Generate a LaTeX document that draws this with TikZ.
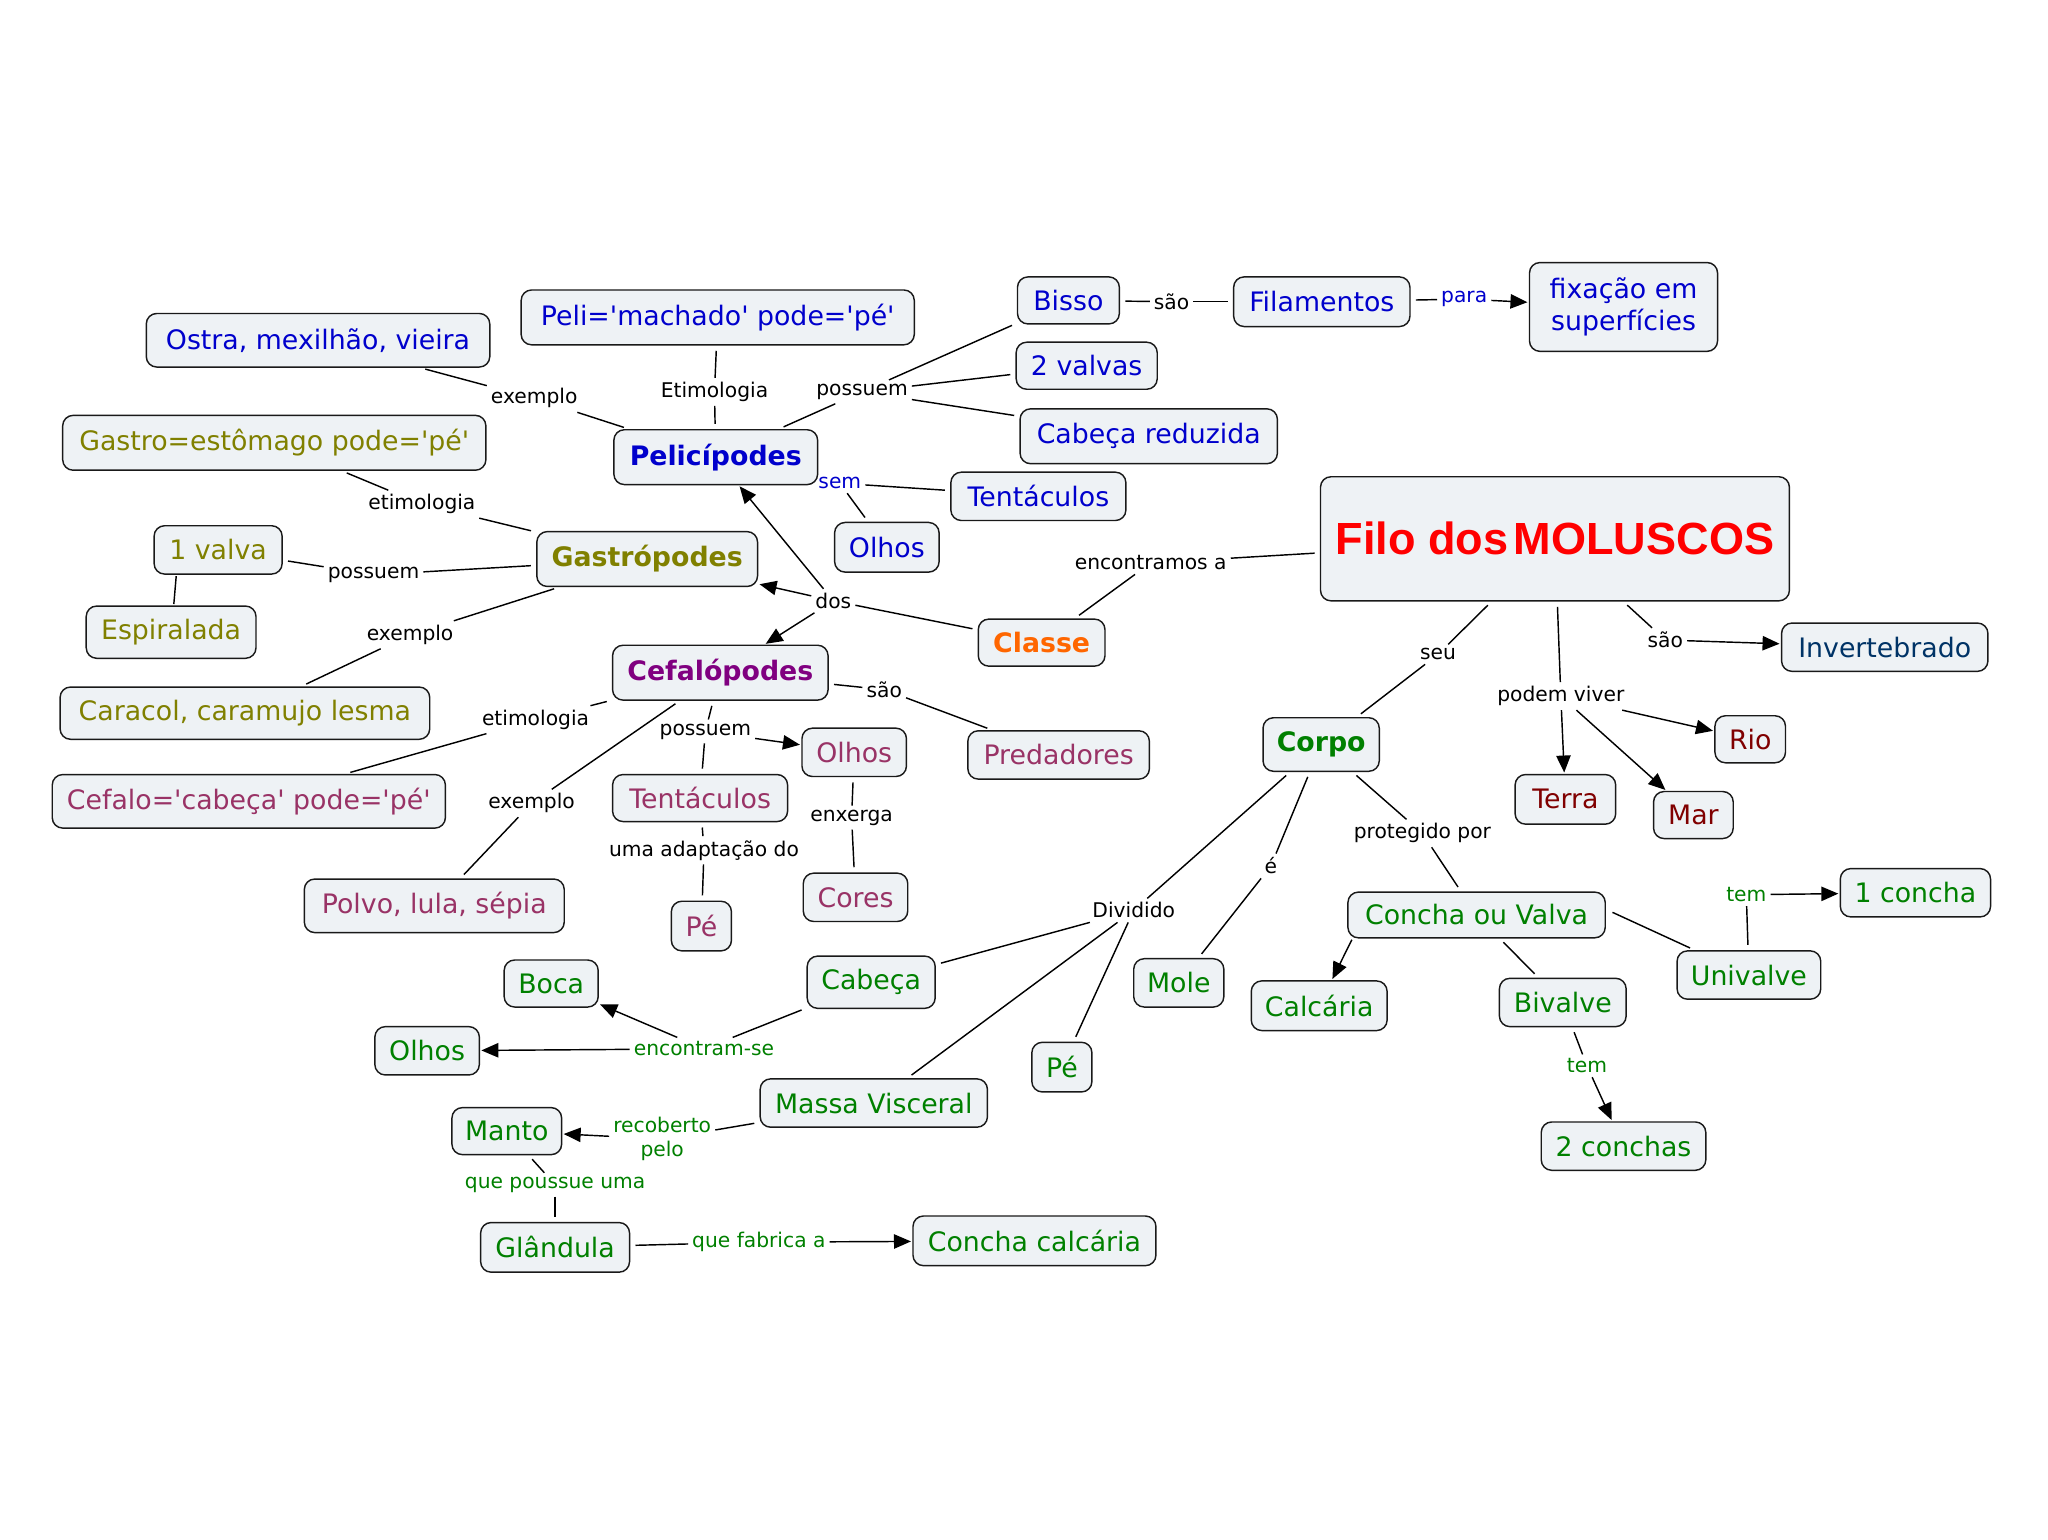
\documentclass[tikz,border=0pt]{standalone}
\usepackage{fontspec}
\setmainfont{DejaVu Sans}[Ligatures=TeXOff]
\newfontfamily\filofont{Liberation Sans}
\usetikzlibrary{arrows.meta}
\definecolor{nodefill}{RGB}{238,242,245}
\definecolor{cblue}{RGB}{0,0,204}
\definecolor{colive}{RGB}{128,128,0}
\definecolor{cpurple}{RGB}{128,0,128}
\definecolor{cplum}{RGB}{153,51,102}
\definecolor{corange}{RGB}{255,102,0}
\definecolor{cred}{RGB}{255,0,0}
\definecolor{cdblue}{RGB}{0,51,102}
\definecolor{cmaroon}{RGB}{128,0,0}
\definecolor{cgreen}{RGB}{0,128,0}
\tikzset{
  box/.style={draw=black!90, line width=1.1pt, rounded corners=8pt, fill=nodefill,
    inner sep=0pt, align=center, font=\fontsize{20.5}{25}\selectfont},
  bbox/.style={box, font=\fontsize{20.5}{25}\selectfont\bfseries},
  lbl/.style={inner sep=3pt, align=center, font=\fontsize{15.5}{19}\selectfont},
  ln/.style={line width=1.1pt},
  sn/.style={shorten <=4pt},
  en/.style={shorten >=4pt},
  arr/.style={ln, -{Triangle[length=13pt,width=11pt]}, shorten >=1pt},
}
\begin{document}
\begin{tikzpicture}[x=1pt,y=-1pt]
\fill[white] (0,0) rectangle (1568,1179);
\useasboundingbox (0,0) rectangle (1568,1179);

% ---------- Pelicipodes group (blue)
\node[box,text=cblue,minimum width=301pt,minimum height=42pt] (peliEt) at (549.5,243) {Peli='machado' pode='pé'};
\node[box,text=cblue,minimum width=263pt,minimum height=41pt] (ostra) at (243.5,260.5) {Ostra, mexilhão, vieira};
\node[bbox,text=cblue,minimum width=156pt,minimum height=42pt] (pelic) at (548,350) {Pelicípodes};
\node[box,text=cblue,minimum width=78pt,minimum height=36pt] (bisso) at (818,230) {Bisso};
\node[box,text=cblue,minimum width=108pt,minimum height=36pt] (valvas2) at (832,280) {2 valvas};
\node[box,text=cblue,minimum width=197pt,minimum height=42pt] (cabred) at (879.5,334) {Cabeça reduzida};
\node[box,text=cblue,minimum width=134pt,minimum height=37pt] (tentP) at (795,380) {Tentáculos};
\node[box,text=cblue,minimum width=80pt,minimum height=38pt] (olhosP) at (679,419) {Olhos};
\node[box,text=cblue,minimum width=135pt,minimum height=38pt] (filam) at (1012,231) {Filamentos};
\node[box,text=cblue,minimum width=144pt,minimum height=68pt] (fixacao) at (1243,235) {fixação em\\superfícies};

% ---------- Gastropodes group (olive)
\node[box,text=colive,minimum width=324pt,minimum height=42pt] (gastroEt) at (210,339) {Gastro=estômago pode='pé'};
\node[bbox,text=colive,minimum width=169pt,minimum height=42pt] (gastr) at (495.5,428) {Gastrópodes};
\node[box,text=colive,minimum width=98pt,minimum height=37pt] (valva1) at (167,421) {1 valva};
\node[box,text=colive,minimum width=130pt,minimum height=40pt] (espir) at (131,484) {Espiralada};
\node[box,text=colive,minimum width=283pt,minimum height=40pt] (caracol) at (187.5,546) {Caracol, caramujo lesma};

% ---------- Cefalopodes group
\node[bbox,text=cpurple,minimum width=165pt,minimum height=42pt] (cefal) at (551.5,515) {Cefalópodes};
\node[box,text=cplum,minimum width=301pt,minimum height=41pt] (cefaloEt) at (190.5,613.5) {Cefalo='cabeça' pode='pé'};
\node[box,text=cplum,minimum width=199pt,minimum height=41pt] (polvo) at (332.5,693.5) {Polvo, lula, sépia};
\node[box,text=cplum,minimum width=134pt,minimum height=36pt] (tentC) at (536,611) {Tentáculos};
\node[box,text=cplum,minimum width=80pt,minimum height=37pt] (olhosC) at (654,576) {Olhos};
\node[box,text=cplum,minimum width=139pt,minimum height=37pt] (pred) at (810.5,578) {Predadores};
\node[box,text=cplum,minimum width=46pt,minimum height=38pt] (peC) at (537,709) {Pé};
\node[box,text=cplum,minimum width=80pt,minimum height=37pt] (cores) at (655,687) {Cores};

% ---------- centre
\node[bbox,text=corange,minimum width=97pt,minimum height=36pt] (classe) at (797.5,492) {Classe};
\node[box,text=cred,minimum width=359pt,minimum height=95pt,font=\filofont\fontsize{34.5}{40}\selectfont\bfseries] (filo) at (1190.5,412.5) {Filo dos\hspace{4pt}MOLUSCOS};
\node[box,text=cdblue,minimum width=158pt,minimum height=37pt] (invert) at (1443,495.5) {Invertebrado};
\node[box,text=cmaroon,minimum width=54pt,minimum height=36pt] (rio) at (1340,566) {Rio};
\node[box,text=cmaroon,minimum width=77pt,minimum height=38pt] (terra) at (1198.5,612) {Terra};
\node[box,text=cmaroon,minimum width=61pt,minimum height=36pt] (mar) at (1296.5,624) {Mar};

% ---------- Corpo group (green)
\node[bbox,text=cgreen,minimum width=89pt,minimum height=41pt] (corpo) at (1011.5,570) {Corpo};
\node[box,text=cgreen,minimum width=197pt,minimum height=35pt] (cov) at (1130.5,700.5) {Concha ou Valva};
\node[box,text=cgreen,minimum width=104pt,minimum height=38pt] (calc) at (1010,770) {Calcária};
\node[box,text=cgreen,minimum width=97pt,minimum height=37pt] (bival) at (1196.5,767.5) {Bivalve};
\node[box,text=cgreen,minimum width=110pt,minimum height=37pt] (univ) at (1339,746.5) {Univalve};
\node[box,text=cgreen,minimum width=115pt,minimum height=37pt] (concha1) at (1466.5,683.5) {1 concha};
\node[box,text=cgreen,minimum width=126pt,minimum height=37pt] (conchas2) at (1243,877.5) {2 conchas};
\node[box,text=cgreen,minimum width=69pt,minimum height=37pt] (mole) at (902.5,752.5) {Mole};
\node[box,text=cgreen,minimum width=98pt,minimum height=40pt] (cabeca) at (667,752) {Cabeça};
\node[box,text=cgreen,minimum width=72pt,minimum height=36pt] (boca) at (422,753) {Boca};
\node[box,text=cgreen,minimum width=80pt,minimum height=37pt] (olhosG) at (327,804.5) {Olhos};
\node[box,text=cgreen,minimum width=46pt,minimum height=38pt] (peG) at (813,817) {Pé};
\node[box,text=cgreen,minimum width=174pt,minimum height=37pt] (massa) at (669,844.5) {Massa Visceral};
\node[box,text=cgreen,minimum width=84pt,minimum height=36pt] (manto) at (388,866) {Manto};
\node[box,text=cgreen,minimum width=114pt,minimum height=38pt] (gland) at (425,955) {Glândula};
\node[box,text=cgreen,minimum width=186pt,minimum height=38pt] (conchaCalc) at (792,950) {Concha calcária};

% ---------- linking phrases
\node[lbl] (lex1) at (409,305) {exemplo};
\node[lbl] (let1) at (547,300) {Etimologia};
\node[lbl] (lpos1) at (660,300) {possuem};
\node[lbl] (lsao1) at (897,231) {são};
\node[lbl,text=cblue] (lpara) at (1121,229) {para};
\node[lbl,text=cblue] (lsem) at (643,370) {sem};
\node[lbl] (ldos) at (638,460) {dos};
\node[lbl] (lenc) at (881,431) {encontramos a};
\node[lbl] (let2) at (323,386) {etimologia};
\node[lbl] (lpos2) at (286,440) {possuem};
\node[lbl] (lex2) at (314,486) {exemplo};
\node[lbl] (let3) at (410,551) {etimologia};
\node[lbl] (lex3) at (407,615) {exemplo};
\node[lbl] (lpos3) at (540,560) {possuem};
\node[lbl] (lsao2) at (677,528) {são};
\node[lbl] (luma) at (539,651) {uma adaptação do};
\node[lbl] (lenx) at (652,626) {enxerga};
\node[lbl] (lseu) at (1101,501) {seu};
\node[lbl] (lpv) at (1195,533) {podem viver};
\node[lbl] (lsao3) at (1275,490) {são};
\node[lbl] (lprot) at (1089,638) {protegido por};
\node[lbl] (le) at (973,663) {é};
\node[lbl] (ldiv) at (868,697) {Dividido};
\node[lbl,text=cgreen] (ltem1) at (1337,685) {tem};
\node[lbl,text=cgreen] (ltem2) at (1215,816) {tem};
\node[lbl,text=cgreen] (lencse) at (539,803) {encontram-se};
\node[lbl,text=cgreen] (lrec) at (507,872) {recoberto\\pelo};
\node[lbl,text=cgreen] (lque) at (425,907) {que poussue uma};
\node[lbl,text=cgreen] (lfab) at (581,951) {que fabrica a};

% ---------- connectors
% Pelicipodes
\draw[ln,sn] (pelic) -- (lex1);  \draw[ln,en] (lex1) -- (ostra);
\draw[ln,sn] (pelic) -- (let1);  \draw[ln,en] (let1) -- (peliEt);
\draw[ln,sn] (pelic) -- (lpos1);
\draw[ln,en] (lpos1) -- (bisso);
\draw[ln,en] (lpos1) -- (valvas2);
\draw[ln,en] (lpos1) -- (cabred);
\draw[ln,sn] (bisso) -- (lsao1); \draw[ln,en] (lsao1) -- (filam);
\draw[ln,sn] (filam) -- (lpara); \draw[arr] (lpara) -- (fixacao);
\draw[ln,en] (lsem) -- (tentP);
\draw[ln,en] (lsem) -- (olhosP);
% Classe
\draw[ln,sn] (filo) -- (lenc); \draw[ln,en] (lenc) -- (classe);
\draw[ln,sn] (classe) -- (ldos);
\draw[arr] (ldos) -- (pelic);
\draw[arr] (ldos) -- (gastr);
\draw[arr] (ldos) -- (cefal);
% Gastropodes
\draw[ln,sn] (gastr) -- (let2); \draw[ln,en] (let2) -- (gastroEt);
\draw[ln,sn] (gastr) -- (lpos2); \draw[ln,en] (lpos2) -- (valva1);
\draw[ln,sn] (gastr) -- (lex2); \draw[ln,en] (lex2) -- (caracol);
\draw[ln,shorten <=1pt,shorten >=1pt] ([xshift=-32pt]valva1.south) -- ([xshift=2pt]espir.north);
% Cefalopodes
\draw[ln,sn] (cefal) -- (let3); \draw[ln,en] (let3) -- (cefaloEt);
\draw[ln,sn] (cefal) -- (lex3); \draw[ln,en] (lex3) -- (polvo);
\draw[ln,sn] (cefal) -- (lpos3);
\draw[arr] (lpos3) -- (olhosC);
\draw[ln,en] (lpos3) -- (tentC);
\draw[ln,sn] (cefal) -- (lsao2); \draw[ln,en] (lsao2) -- (pred);
\draw[ln,sn] (tentC) -- (luma); \draw[ln,en] (luma) -- (peC);
\draw[ln,sn] (olhosC) -- (lenx); \draw[ln,en] (lenx) -- (cores);
% Filo
\draw[ln,sn] (filo) -- (lseu); \draw[ln,en] (lseu) -- (corpo);
\draw[ln,sn] (filo) -- (lpv);
\draw[arr] (lpv) -- (terra);
\draw[arr] (lpv) -- (mar);
\draw[arr] (lpv) -- (rio);
\draw[ln,sn] (filo) -- (lsao3); \draw[arr] (lsao3) -- (invert);
% Corpo
\draw[ln,sn] (corpo) -- (lprot); \draw[ln,en] (lprot) -- (cov);
\draw[ln,sn] (corpo) -- (le); \draw[ln,en] (le) -- (mole);
\draw[ln,sn] (corpo) -- (ldiv);
\draw[ln,en] (ldiv) -- (cabeca);
\draw[ln,en] (ldiv) -- (massa);
\draw[ln,en] (ldiv) -- (peG);
\draw[arr,shorten <=1pt] ([xshift=4pt]cov.south west) -- (calc);
\draw[ln,sn,en] (cov) -- (bival);
\draw[ln,shorten >=4pt] ([xshift=5pt,yshift=2pt]cov.east) -- (univ);
\draw[ln,sn] (univ) -- (ltem1); \draw[arr] (ltem1) -- (concha1);
\draw[ln,sn] (bival) -- (ltem2); \draw[arr] (ltem2) -- (conchas2);
\draw[ln,sn] (cabeca) -- (lencse);
\draw[arr] (lencse) -- (boca);
\draw[arr] (lencse) -- (olhosG);
\draw[ln,sn] (massa) -- (lrec); \draw[arr] (lrec) -- (manto);
\draw[ln,sn] (manto) -- (lque); \draw[ln,en] (lque) -- (gland);
\draw[ln,sn] (gland) -- (lfab); \draw[arr] (lfab) -- (conchaCalc);
\end{tikzpicture}
\end{document}
